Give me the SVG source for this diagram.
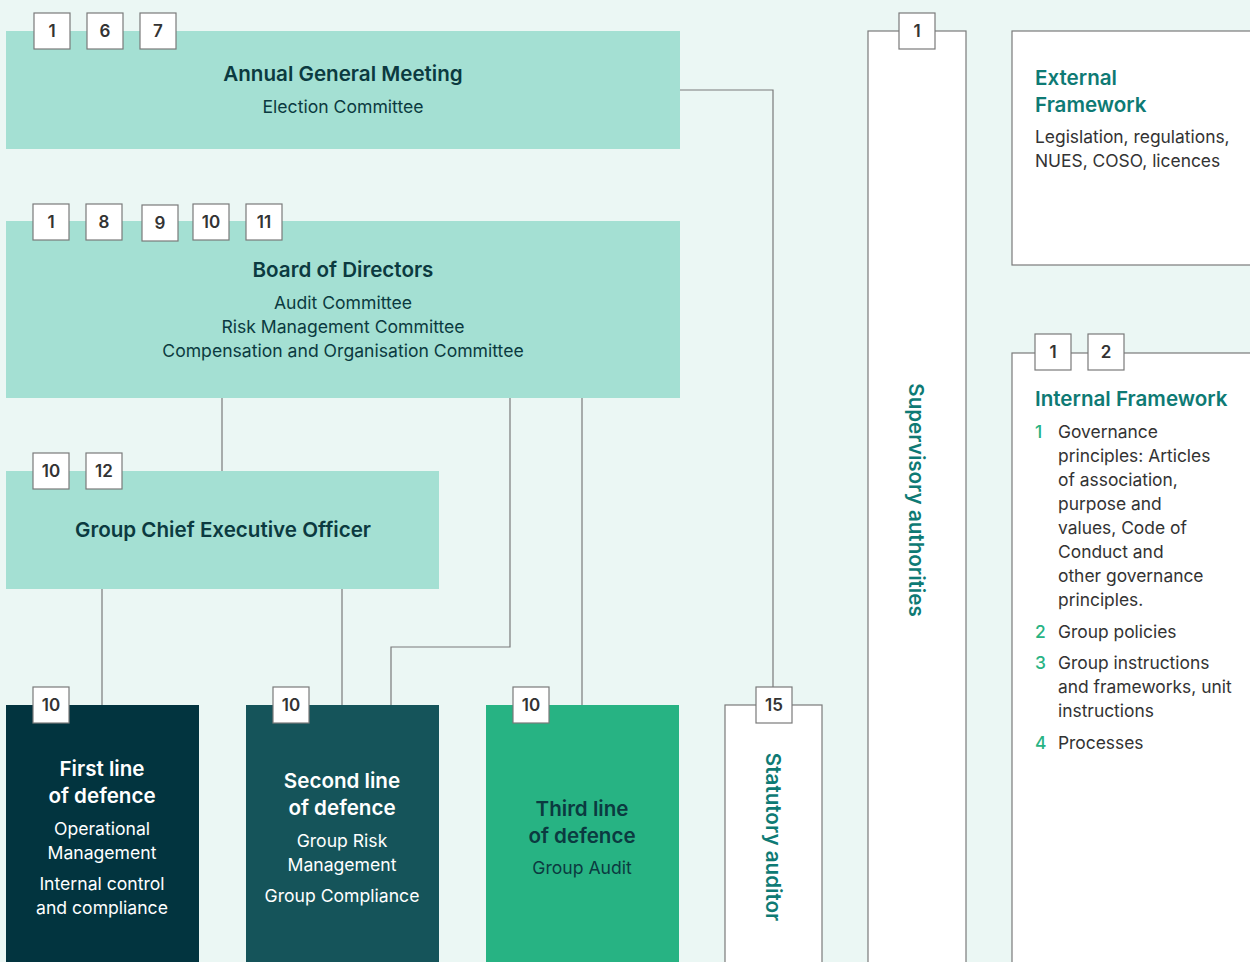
<svg xmlns="http://www.w3.org/2000/svg" width="1250" height="962" viewBox="0 0 1250 962">
<style>
text{font-family:Inter,"Liberation Sans",sans-serif}
.bx{fill:#a4e0d3}
.wb{fill:#fff;stroke:#7a7a7a;stroke-width:1.2}
.bd rect{fill:#fff;stroke:#7a7a7a;stroke-width:1.2}
.bd text{font-size:17px;font-weight:600;fill:#333;text-anchor:middle}
.t{font-size:20.6px;font-weight:600;fill:#0b3a40;text-anchor:middle}
.s{font-size:17.6px;fill:#0b3a40;text-anchor:middle}
.tw{font-size:20.6px;font-weight:600;fill:#fff;text-anchor:middle}
.sw{font-size:17.6px;fill:#fff;text-anchor:middle}
.tt{font-size:20.6px;font-weight:600;fill:#0e7a74}
.g{font-size:17.4px;fill:#333}
.n{font-size:17.4px;fill:#27b383;font-weight:500}
.c{fill:none;stroke:#7a7a7a;stroke-width:1.2}
</style>
<rect width="1250" height="962" fill="#ebf7f4"/>
<g id="connectors">
<path class="c" d="M680 90H773V687"/>
<path class="c" d="M222 398V471"/>
<path class="c" d="M510 398V647H391V705"/>
<path class="c" d="M582 398V705"/>
<path class="c" d="M102 589V705"/>
<path class="c" d="M342 589V705"/>
</g>
<g id="agm">
<rect class="bx" x="6" y="31" width="674" height="118"/>
<text class="t" x="343" y="81">Annual General Meeting</text>
<text class="s" x="343" y="113">Election Committee</text>
<g class="bd"><rect x="34" y="13" width="36" height="36"/><text x="52" y="37">1</text>
<rect x="87" y="13" width="36" height="36"/><text x="105" y="37">6</text>
<rect x="140" y="13" width="36" height="36"/><text x="158" y="37">7</text></g>
</g>
<g id="board">
<rect class="bx" x="6" y="221" width="674" height="177"/>
<text class="t" x="343" y="277">Board of Directors</text>
<text class="s" x="343" y="309">Audit Committee</text>
<text class="s" x="343" y="333">Risk Management Committee</text>
<text class="s" x="343" y="357">Compensation and Organisation Committee</text>
<g class="bd"><rect x="33" y="204" width="36" height="36"/><text x="51" y="228">1</text>
<rect x="86" y="204" width="36" height="36"/><text x="104" y="228">8</text>
<rect x="142" y="205" width="36" height="36"/><text x="160" y="229">9</text>
<rect x="193" y="204" width="36" height="36"/><text x="211" y="228">10</text>
<rect x="246" y="204" width="36" height="36"/><text x="264" y="228">11</text></g>
</g>
<g id="ceo">
<rect class="bx" x="6" y="471" width="433" height="118"/>
<text class="t" x="223" y="537">Group Chief Executive Officer</text>
<g class="bd"><rect x="33" y="453" width="36" height="36"/><text x="51" y="477">10</text>
<rect x="86" y="453" width="36" height="36"/><text x="104" y="477">12</text></g>
</g>
<g id="first">
<rect x="6" y="705" width="193" height="257" fill="#02343f"/>
<text class="tw" x="102" y="776">First line</text>
<text class="tw" x="102" y="803">of defence</text>
<text class="sw" x="102" y="835">Operational</text>
<text class="sw" x="102" y="859">Management</text>
<text class="sw" x="102" y="890">Internal control</text>
<text class="sw" x="102" y="914">and compliance</text>
<g class="bd"><rect x="33" y="687" width="36" height="36"/><text x="51" y="711">10</text></g>
</g>
<g id="second">
<rect x="246" y="705" width="193" height="257" fill="#15545a"/>
<text class="tw" x="342" y="788">Second line</text>
<text class="tw" x="342" y="815">of defence</text>
<text class="sw" x="342" y="847">Group Risk</text>
<text class="sw" x="342" y="871">Management</text>
<text class="sw" x="342" y="902">Group Compliance</text>
<g class="bd"><rect x="273" y="687" width="36" height="36"/><text x="291" y="711">10</text></g>
</g>
<g id="third">
<rect x="486" y="705" width="193" height="257" fill="#27b383"/>
<text class="t" x="582" y="816">Third line</text>
<text class="t" x="582" y="843">of defence</text>
<text class="s" x="582" y="874">Group Audit</text>
<g class="bd"><rect x="513" y="687" width="36" height="36"/><text x="531" y="711">10</text></g>
</g>
<g id="auditor">
<rect class="wb" x="725" y="705" width="97" height="270"/>
<text class="tt" transform="translate(766 837) rotate(90)" text-anchor="middle">Statutory auditor</text>
<g class="bd"><rect x="756" y="687" width="36" height="36"/><text x="774" y="711">15</text></g>
</g>
<g id="supervisory">
<rect class="wb" x="868" y="31" width="98" height="950"/>
<text class="tt" transform="translate(909 500) rotate(90)" text-anchor="middle">Supervisory authorities</text>
<g class="bd"><rect x="899" y="13" width="36" height="36"/><text x="917" y="37">1</text></g>
</g>
<g id="external">
<rect class="wb" x="1012" y="31" width="260" height="234"/>
<text class="tt" x="1035" y="85">External</text>
<text class="tt" x="1035" y="112">Framework</text>
<text class="g" x="1035" y="143">Legislation, regulations,</text>
<text class="g" x="1035" y="167">NUES, COSO, licences</text>
</g>
<g id="internal">
<rect class="wb" x="1012" y="353" width="260" height="630"/>
<text class="tt" x="1035" y="406">Internal Framework</text>
<text class="n" x="1035" y="438">1</text>
<text class="g" x="1058" y="438">Governance</text>
<text class="g" x="1058" y="462">principles: Articles</text>
<text class="g" x="1058" y="486">of association,</text>
<text class="g" x="1058" y="510">purpose and</text>
<text class="g" x="1058" y="534">values, Code of</text>
<text class="g" x="1058" y="558">Conduct and</text>
<text class="g" x="1058" y="582">other governance</text>
<text class="g" x="1058" y="606">principles.</text>
<text class="n" x="1035" y="638">2</text>
<text class="g" x="1058" y="638">Group policies</text>
<text class="n" x="1035" y="669">3</text>
<text class="g" x="1058" y="669">Group instructions</text>
<text class="g" x="1058" y="693">and frameworks, unit</text>
<text class="g" x="1058" y="717">instructions</text>
<text class="n" x="1035" y="749">4</text>
<text class="g" x="1058" y="749">Processes</text>
<g class="bd"><rect x="1035" y="334" width="36" height="36"/><text x="1053" y="358">1</text>
<rect x="1088" y="334" width="36" height="36"/><text x="1106" y="358">2</text></g>
</g>
</svg>
